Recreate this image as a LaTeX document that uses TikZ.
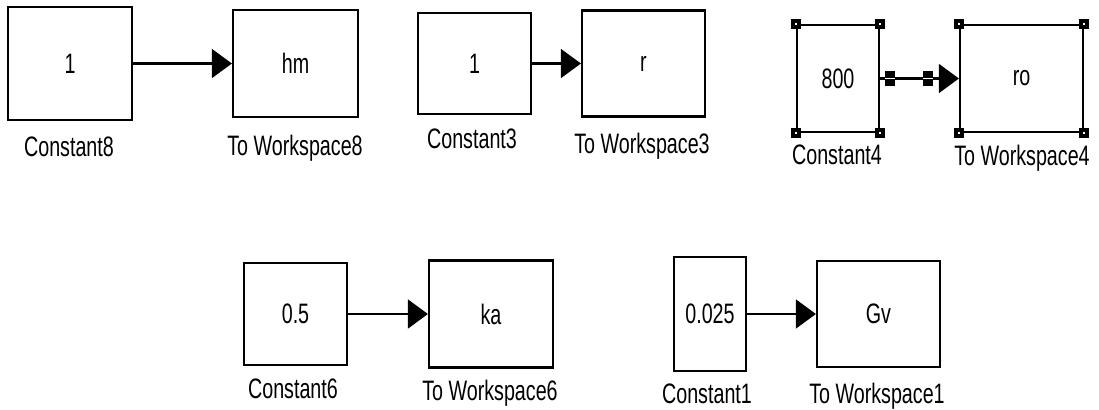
\documentclass[tikz,border=0pt]{standalone}
\usepackage{fontspec}
\setmainfont{Liberation Sans}
\newfontfamily\blockfont[FakeStretch=0.7]{Liberation Sans}
\usetikzlibrary{arrows.meta}

\tikzset{
  block/.style={draw,rectangle,line width=1.5pt,inner sep=0pt,
    font=\blockfont\fontsize{20}{24}\selectfont},
  blocklabel/.style={anchor=base,inner sep=0pt,
    font=\blockfont\fontsize{20}{24}\selectfont},
  signal/.style={line width=1.5pt,-{Triangle[length=0.5cm,width=0.72cm]}},
  portmark/.style={fill=black,rectangle,inner sep=0pt,
    minimum width=0.27cm,minimum height=0.38cm,
    path picture={\draw[white,line width=0.8pt]
      (path picture bounding box.west) -- (path picture bounding box.east);}}
}

\begin{document}
\begin{tikzpicture}[x=0.025cm,y=-0.025cm]
% Canvas
\useasboundingbox (0,0) rectangle (1099,409);
\fill[white] (0,0) rectangle (1099,409);

% Top row: blocks
\node[block,minimum width=3.1cm,minimum height=2.825cm] (c8) at (70,63.5) {1};
\node[block,minimum width=3.125cm,minimum height=2.675cm] (tw8) at (295.5,63.5) {hm};
\node[block,minimum width=2.825cm,minimum height=2.525cm] (c3) at (474.5,63.5) {1};
\node[block,minimum width=3.075cm,minimum height=2.65cm] (tw3) at (643.5,63.5) {r};
\node[block,minimum width=2.05cm,minimum height=2.675cm] (c4) at (838,78.5) {800};
\node[block,minimum width=3.075cm,minimum height=2.675cm] (tw4) at (1021.5,78.5) {ro};

% Bottom row: blocks
\node[block,minimum width=2.575cm,minimum height=2.55cm] (c6) at (295.5,314) {0.5};
\node[block,minimum width=3.1cm,minimum height=2.675cm] (tw6) at (491,314) {ka};
\node[block,minimum width=1.8cm,minimum height=2.85cm] (c1) at (710,314) {0.025};
\node[block,minimum width=3.075cm,minimum height=2.65cm] (tw1) at (878.5,314) {Gv};

% Block names
\node[blocklabel] (c8l) at (69,156) {Constant8};
\node[blocklabel] (tw8l) at (295,155) {To Workspace8};
\node[blocklabel] (c3l) at (472,148) {Constant3};
\node[blocklabel] (tw3l) at (642,153) {To Workspace3};
\node[blocklabel] (c4l) at (837,164) {Constant4};
\node[blocklabel] (tw4l) at (1022,165) {To Workspace4};
\node[blocklabel] (c6l) at (293,398) {Constant6};
\node[blocklabel] (tw6l) at (490,400) {To Workspace6};
\node[blocklabel] (c1l) at (707,403) {Constant1};
\node[blocklabel] (tw1l) at (877,403) {To Workspace1};

% Signal lines
\draw[signal] (c8) -- (tw8);
\draw[signal] (c3) -- (tw3);
\draw[signal] (c4) -- (tw4);
\draw[signal] (c6) -- (tw6);
\draw[signal] (c1) -- (tw1);

% Selected line ends
\path (c4.east) ++(10,0) node[portmark] (p1) {};
\path (tw4.west) ++(-31,0) node[portmark] (p2) {};

% Selection handles
\foreach \n in {c4,tw4}
  \foreach \a in {north west,north east,south west,south east} {
    \fill (\n.\a) ++(-5,-5) rectangle ++(10,10);
    \fill[white] (\n.\a) ++(-1.2,-1.2) rectangle ++(2.4,2.4);
  }
\end{tikzpicture}
\end{document}
